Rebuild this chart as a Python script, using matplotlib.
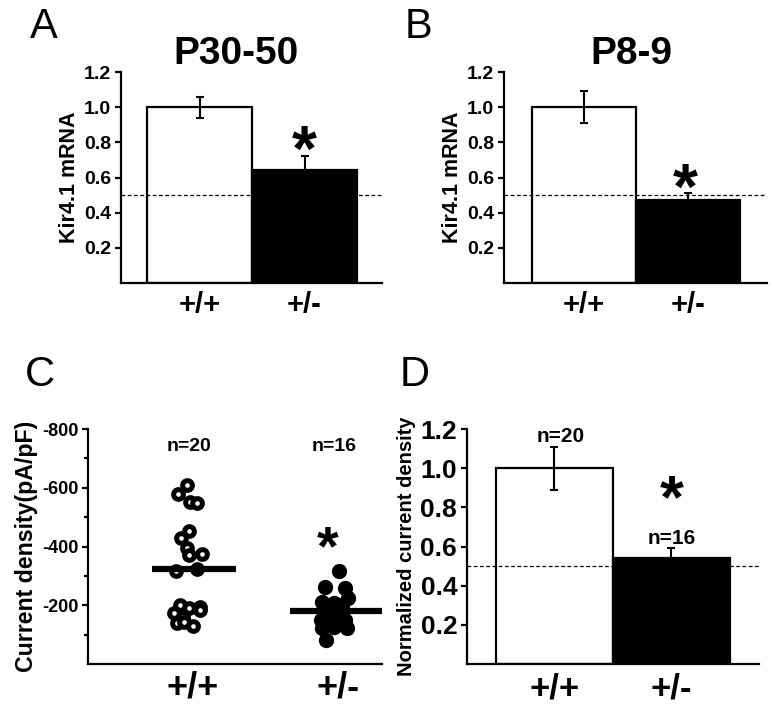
import numpy as np
import matplotlib
matplotlib.use('Agg')
import matplotlib.pyplot as plt

plt.rcParams['font.family'] = ['Liberation Sans', 'DejaVu Sans']
plt.rcParams['font.weight'] = 'bold'
plt.rcParams['axes.unicode_minus'] = False
plt.rcParams['mathtext.fontset'] = 'custom'
plt.rcParams['mathtext.rm'] = 'Liberation Sans'
plt.rcParams['mathtext.bf'] = 'Liberation Sans:bold'

genotipos = ['+/+', '+/-']

# A: Kir4.1 mRNA P30-50
mrna_p30 = [1.0, 0.64]
erro_p30 = [0.06, 0.08]

# B: Kir4.1 mRNA P8-9
mrna_p8 = [1.0, 0.47]
erro_p8 = [0.09, 0.04]

# C: densidade de corrente por celula (pA/pF)
wt_densidade = [-610, -578, -551, -549, -453, -428, -394, -371, -375, -317,
                -324, -201, -190, -195, -173, -161, -139, -144, -131, -185]
wt_desvio_x = [-0.04, -0.10, -0.02, 0.03, -0.03, -0.08, -0.04, -0.03, 0.06, -0.12,
               0.03, -0.09, -0.03, 0.05, -0.13, -0.07, -0.11, -0.06, 0.0, 0.05]
het_densidade = [-315, -263, -258, -224, -212, -207, -201, -150, -161, -150,
                 -122, -127, -122, -82, -175, -140]
het_desvio_x = [0.01, -0.09, 0.05, 0.07, -0.11, -0.03, 0.03, -0.12, -0.06, 0.05,
                -0.11, -0.03, 0.06, -0.08, -0.01, -0.02]

# D: densidade normalizada
dens_norm = [1.0, 0.54]
erro_norm = [0.11, 0.05]
n_celulas = [20, 16]

ASTERISCO = r'$\mathbf{*}$'

fig = plt.figure(figsize=(7.73, 7.16), dpi=100)


def estilo_eixo(ax, tam_y, tam_x, pad_x):
    for lado in ['top', 'right']:
        ax.spines[lado].set_visible(False)
    for lado in ['left', 'bottom']:
        ax.spines[lado].set_linewidth(1.6)
    ax.tick_params(axis='y', direction='out', length=4, width=1.6,
                   labelsize=tam_y, pad=3)
    ax.tick_params(axis='x', length=0, labelsize=tam_x, pad=pad_x)
    for t in ax.get_yticklabels() + ax.get_xticklabels():
        t.set_fontweight('bold')


def grafico_barras(ax, valores, erros, xlim, tam_y, tam_x):
    pos = [1, 2]
    ax.bar(pos, valores, width=1.0, color=['white', 'black'],
           edgecolor='black', linewidth=1.6, zorder=2)
    ax.errorbar(pos, valores, yerr=erros, fmt='none', ecolor='black',
                elinewidth=1.5, capsize=3, capthick=1.5, zorder=3)
    ax.axhline(0.5, color='black', linestyle=(0, (3, 2)), linewidth=0.9, zorder=4)
    ax.set_xlim(*xlim)
    ax.set_ylim(0, 1.2)
    ax.set_yticks([0.2, 0.4, 0.6, 0.8, 1.0, 1.2])
    ax.set_yticklabels(['0.2', '0.4', '0.6', '0.8', '1.0', '1.2'])
    ax.set_xticks(pos)
    ax.set_xticklabels(genotipos)
    estilo_eixo(ax, tam_y, tam_x, 6)


# A
axA = fig.add_axes([0.1565, 0.6047, 0.3377, 0.2947])
grafico_barras(axA, mrna_p30, erro_p30, (0.252, 2.738), 14, 21)
axA.set_ylabel('Kir4.1 mRNA', fontsize=15.5, fontweight='bold', labelpad=3)
axA.set_title('P30-50', fontsize=28, fontweight='bold', pad=5, x=0.44)
axA.text(2.0, 0.742, ASTERISCO, fontsize=46, ha='center', va='center')
fig.text(0.057, 0.962, 'A', fontsize=30, fontweight='normal', ha='center', va='center')

# B
axB = fig.add_axes([0.652, 0.6047, 0.340, 0.2947])
grafico_barras(axB, mrna_p8, erro_p8, (0.231, 2.76), 14, 21)
axB.set_ylabel('Kir4.1 mRNA', fontsize=15.5, fontweight='bold', labelpad=3)
axB.set_title('P8-9', fontsize=28, fontweight='bold', pad=5, x=0.485)
axB.text(1.98, 0.525, ASTERISCO, fontsize=46, ha='center', va='center')
fig.text(0.541, 0.962, 'B', fontsize=30, fontweight='normal', ha='center', va='center')

# C
axC = fig.add_axes([0.1138, 0.0726, 0.3803, 0.3282])
x_wt = 1 + np.array(wt_desvio_x)
x_het = 2 + np.array(het_desvio_x)
axC.plot(x_wt, wt_densidade, 'o', markersize=7.0, markerfacecolor='white',
         markeredgecolor='black', markeredgewidth=3.6, linestyle='none', zorder=3)
axC.plot(x_het, het_densidade, 'o', markersize=10, markerfacecolor='black',
         markeredgecolor='black', linestyle='none', zorder=3)
axC.hlines(np.mean(wt_densidade), 1 - 0.28, 1 + 0.30, color='black', linewidth=4.5, zorder=4)
axC.hlines(np.mean(het_densidade), 2 - 0.33, 2 + 0.32, color='black', linewidth=4.5, zorder=4)
axC.set_xlim(0.276, 2.303)
axC.set_ylim(0, -800)
axC.set_yticks([-200, -400, -600, -800])
axC.set_yticks([-100, -300, -500, -700], minor=True)
axC.set_xticks([1, 2])
axC.set_xticklabels(genotipos)
estilo_eixo(axC, 13, 26, 5)
axC.tick_params(axis='y', which='minor', direction='out', length=3, width=1.6)
axC.set_ylabel('Current density(pA/pF)', fontsize=16.7, fontweight='bold', labelpad=3)
for xi, n in zip([1, 2], n_celulas):
    axC.text(xi - 0.03, -740, 'n=%d' % n, fontsize=14, fontweight='bold',
             ha='center', va='center')
axC.text(1.93, -392, ASTERISCO, fontsize=40, ha='center', va='center')
fig.text(0.0517, 0.4763, 'C', fontsize=30, fontweight='normal', ha='center', va='center')

# D
axD = fig.add_axes([0.6041, 0.0726, 0.3777, 0.3282])
grafico_barras(axD, dens_norm, erro_norm, (0.252, 2.748), 19, 25)
axD.set_ylabel('Normalized current density', fontsize=14.5, fontweight='bold', labelpad=3)
axD.text(1.05, 1.16, 'n=%d' % n_celulas[0], fontsize=15, fontweight='bold',
         ha='center', va='center')
axD.text(2.0, 0.64, 'n=%d' % n_celulas[1], fontsize=15, fontweight='bold',
         ha='center', va='center')
axD.text(2.0, 0.835, ASTERISCO, fontsize=44, ha='center', va='center')
fig.text(0.537, 0.4763, 'D', fontsize=30, fontweight='normal', ha='center', va='center')

fig.savefig('out.png', dpi=100)
